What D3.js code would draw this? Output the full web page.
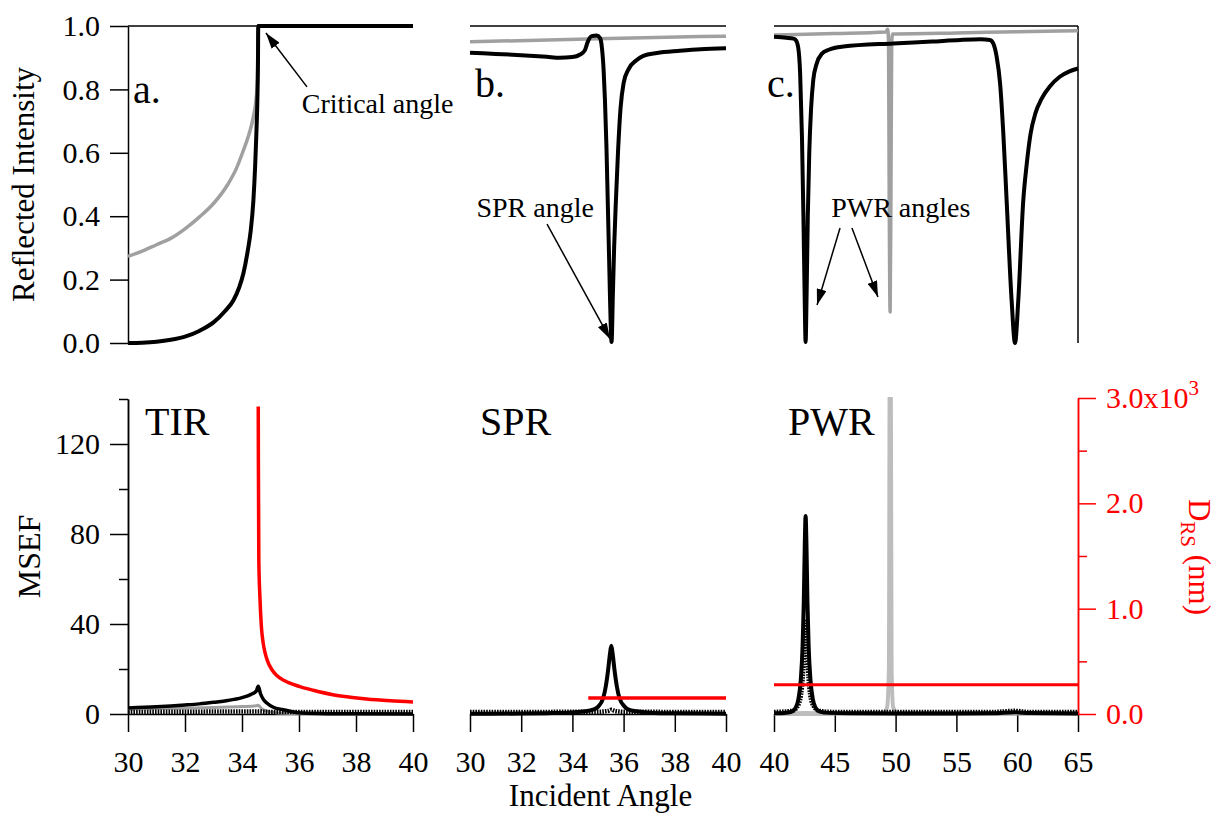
<!DOCTYPE html>
<html>
<head>
<meta charset="utf-8">
<script src="https://cdn.jsdelivr.net/npm/d3@7"></script>
<style>
  body { margin: 0; background: #fff; }
  svg text { font-family: "Liberation Serif", "DejaVu Serif", "Noto Serif", "Times New Roman", Times, serif; }
</style>
</head>
<body>
<script>
// reflectivity (top row), angle in degrees vs reflected intensity
const topA_black = [[30,0.0],[30.5,0.001],[31,0.004],[31.5,0.01],[32,0.02],[32.5,0.038],[33,0.065],[33.4,0.1],[33.7,0.135],[33.9,0.175],[34.05,0.22],[34.2,0.29],[34.3,0.35],[34.4,0.45],[34.46,0.556],[34.5,0.65],[34.54,0.77],[34.56,0.88],[34.57,1.0],[35,1.0],[40,1.0]];
const topA_gray = [[30,0.273],[30.5,0.29],[31,0.31],[31.5,0.33],[32,0.36],[32.5,0.397],[33,0.44],[33.5,0.5],[33.8,0.55],[34.05,0.608],[34.25,0.66],[34.4,0.714],[34.5,0.775],[34.54,0.83],[34.57,1.0],[40,1.0]];
const topB_black = [[30,0.916],[31,0.912],[32,0.908],[33,0.903],[33.5,0.9],[34,0.902],[34.3,0.91],[34.49,0.924],[34.6,0.95],[34.75,0.968],[34.95,0.97],[35.08,0.962],[35.14,0.94],[35.22,0.86],[35.27,0.77],[35.33,0.62],[35.38,0.45],[35.43,0.28],[35.47,0.14],[35.5,0.05],[35.53,0.003],[35.58,0.15],[35.63,0.3],[35.7,0.45],[35.78,0.6],[35.88,0.74],[36.0,0.82],[36.2,0.865],[36.5,0.892],[36.77,0.906],[37.3,0.915],[38.2,0.922],[39,0.927],[40,0.93]];
const topB_gray = [[30,0.95],[35,0.96],[40,0.968]];
const topC_black = [[40,0.966],[41,0.963],[41.6,0.96],[41.8,0.955],[42.0,0.93],[42.15,0.85],[42.3,0.65],[42.42,0.4],[42.52,0.15],[42.6,0.003],[42.68,0.15],[42.78,0.4],[42.9,0.6],[43.05,0.74],[43.23,0.83],[43.5,0.88],[43.92,0.912],[44.5,0.925],[45.7,0.935],[49.8,0.945],[53,0.951],[55.3,0.956],[57,0.958],[57.76,0.956],[58.03,0.945],[58.31,0.903],[58.59,0.82],[58.86,0.66],[59.13,0.45],[59.54,0.135],[59.82,0.0],[60.09,0.135],[60.5,0.45],[60.77,0.56],[61.1,0.66],[61.5,0.725],[62,0.77],[62.7,0.81],[63.5,0.84],[64.3,0.857],[65,0.866]];
const topC_gray = [[40,0.972],[45,0.976],[49.2,0.981],[49.35,0.99],[49.42,0.95],[49.47,0.5],[49.55,0.098],[49.62,0.5],[49.68,0.95],[49.76,0.975],[50,0.975],[55,0.978],[60,0.982],[65,0.985]];

// field enhancement (bottom row), angle vs MSEF
const botA_black = [[30,2.66],[31,3.2],[32,4.0],[32.5,4.5],[33,5.2],[33.5,6.0],[34,7.3],[34.3,8.6],[34.5,10.2],[34.57,12.3],[34.65,9.0],[34.75,6.5],[34.87,4.9],[35.1,3.0],[35.45,1.9],[35.8,0.9],[36.1,0.4],[37,0.15],[38,0.1],[40,0.05]];
const botA_gray = [[30,2.2],[31,2.4],[32,2.6],[33,2.9],[34,3.3],[34.5,3.7],[34.57,3.9],[34.7,2.2],[35,0.9],[35.5,0.3],[36,0.1],[37,0.03],[40,0.0]];
const botA_dot = [[30,0.9],[34.57,1.1],[35,0.9],[40,0.9]];
const botB_black = [[30,0.1],[32,0.2],[33,0.35],[34,0.7],[34.5,1.2],[34.8,1.9],[35.0,3.2],[35.2,7],[35.3,12],[35.4,20],[35.47,27],[35.52,30.3],[35.57,27],[35.64,20],[35.74,12],[35.84,7],[36.05,3.2],[36.2,1.9],[36.5,1.2],[37,0.6],[38,0.3],[40,0.15]];
const botB_dot = [[30,0.9],[35,1.0],[35.4,1.4],[35.52,1.9],[35.65,1.4],[36,1.0],[40,0.9]];
const botC_black = [[40,0.3],[41,0.6],[41.5,1.2],[41.8,3],[42.0,6.4],[42.2,15],[42.35,30],[42.45,50],[42.53,75],[42.6,88],[42.67,75],[42.75,50],[42.85,30],[43.0,15],[43.2,6.4],[43.4,3],[43.7,1.2],[44.5,0.5],[47,0.3],[50,0.2],[55,0.2],[58,0.3],[59.8,0.8],[61,0.4],[65,0.2]];
const botC_dot = [[40,0.9],[41.5,1.4],[42,4],[42.3,12],[42.5,30],[42.6,42],[42.7,30],[42.9,12],[43.2,4],[43.7,1.4],[45,0.9],[58,0.9],[59.8,1.4],[61,0.9],[65,0.9]];
const botC_gray = [[40,0.2],[42.6,0.5],[45,0.2],[49,0.5],[49.3,3],[49.45,20],[49.52,160],[49.6,160],[49.67,20],[49.8,3],[50.2,0.5],[65,0.1]];

// penetration depth (red, right axis, x10^3 nm)
const redA = [[34.57,2.92],[34.575,2.4],[34.59,1.47],[34.63,1.1],[34.68,0.83],[34.74,0.68],[34.81,0.58],[34.9,0.5],[35.05,0.42],[35.22,0.365],[35.5,0.315],[36.03,0.26],[36.5,0.225],[37.19,0.183],[37.8,0.16],[38.37,0.142],[39.2,0.125],[40,0.114]];
const redB = [[34.62,0.152],[40,0.152]];
const redC = [[40,0.278],[65,0.278]];

const ticksTop = [0, 0.2, 0.4, 0.6, 0.8, 1.0];
const ticksMsef = [0, 40, 80, 120];
const minorMsef = [20, 60, 100, 140];
const ticksD = [0, 1, 2, 3];
const minorD = [0.5, 1.5, 2.5];
const ticksAB = [30, 32, 34, 36, 38, 40];
const ticksC = [40, 45, 50, 55, 60, 65];

const black = "#000", gray = "#a0a0a0", lightGray = "#bdbdbd", red = "#ff0000";

const svg = d3.select("body").append("svg")
    .attr("width", 1217)
    .attr("height", 814);

const xA = d3.scaleLinear().domain([30, 40]).range([128, 413]);
const xB = d3.scaleLinear().domain([30, 40]).range([470, 726]);
const xC = d3.scaleLinear().domain([40, 65]).range([774, 1078]);
const yR = d3.scaleLinear().domain([0, 1]).range([343, 26]);
const yM = d3.scaleLinear().domain([0, 140]).range([714, 399]);
const yD = d3.scaleLinear().domain([0, 3]).range([714, 398]);

const defs = svg.append("defs");
defs.append("clipPath").attr("id", "clipC")
  .append("rect")
    .attr("x", xC.range()[0] - 5).attr("y", yM(140) - 2)
    .attr("width", xC.range()[1] - xC.range()[0] + 10)
    .attr("height", yM(0) - yM(140) + 10);

const marker = defs.append("marker")
    .attr("id", "arrow")
    .attr("markerUnits", "userSpaceOnUse")
    .attr("viewBox", "0 0 16 10")
    .attr("refX", 16).attr("refY", 5)
    .attr("markerWidth", 16).attr("markerHeight", 10)
    .attr("orient", "auto");
marker.append("path").attr("d", "M0,0 L16,5 L0,10 Z").attr("fill", black);

function plot(data, x, y, color, width, dash, clip) {
  const line = d3.line()
      .x(d => x(d[0]))
      .y(d => y(d[1]))
      .curve(d3.curveMonotoneX);
  const p = svg.append("path")
      .datum(data)
      .attr("fill", "none")
      .attr("stroke", color)
      .attr("stroke-width", width)
      .attr("stroke-linejoin", "round")
      .attr("d", line);
  if (dash) p.attr("stroke-dasharray", dash);
  if (clip) p.attr("clip-path", "url(#" + clip + ")");
}

function styleAxis(g, color) {
  g.attr("font-family", null).attr("font-size", 30);
  g.selectAll("path, line").attr("stroke", color).attr("stroke-width", 1.5);
  g.selectAll("text").attr("fill", color).attr("font-size", 30);
}

// ---------- top row frames ----------
[xA, xB, xC].forEach(x => {
  svg.append("line")
      .attr("x1", x.range()[0]).attr("x2", x.range()[1])
      .attr("y1", yR(1)).attr("y2", yR(1))
      .attr("stroke", black).attr("stroke-width", 1.5);
});
svg.append("line")
    .attr("x1", xC.range()[1]).attr("x2", xC.range()[1])
    .attr("y1", yR(1)).attr("y2", yR(0))
    .attr("stroke", black).attr("stroke-width", 1.5);

svg.append("g")
    .attr("transform", `translate(${xA.range()[0]},0)`)
    .call(d3.axisLeft(yR).tickValues(ticksTop).tickFormat(d3.format(".1f"))
      .tickSize(18).tickSizeOuter(0).tickPadding(10))
    .call(g => styleAxis(g, black));

// ---------- top row curves ----------
plot(topA_gray, xA, yR, gray, 3.5);
plot(topA_black, xA, yR, black, 4);
plot(topB_gray, xB, yR, gray, 3.5);
plot(topB_black, xB, yR, black, 4);
plot(topC_gray, xC, yR, gray, 3.5);
plot(topC_black, xC, yR, black, 4);

// ---------- bottom row axes ----------
svg.append("g")
    .attr("transform", `translate(${xA.range()[0]},0)`)
    .call(d3.axisLeft(yM).tickValues(ticksMsef).tickSize(18).tickSizeOuter(0).tickPadding(10))
    .call(g => styleAxis(g, black));
svg.append("g")
    .attr("transform", `translate(${xA.range()[0]},0)`)
    .call(d3.axisLeft(yM).tickValues(minorMsef).tickSize(9).tickSizeOuter(0).tickFormat(""))
    .call(g => styleAxis(g, black));

[[xA, ticksAB], [xB, ticksAB], [xC, ticksC]].forEach(([x, t]) => {
  svg.append("g")
      .attr("transform", `translate(0,${yM(0)})`)
      .call(d3.axisBottom(x).tickValues(t).tickSize(18).tickSizeOuter(0).tickPadding(19))
      .call(g => styleAxis(g, black));
});

const rAxis = svg.append("g")
    .attr("transform", `translate(${xC.range()[1]},0)`)
    .call(d3.axisRight(yD).tickValues(ticksD)
      .tickFormat(d => d === 3 ? "3.0x10" : d3.format(".1f")(d))
      .tickSize(18).tickSizeOuter(0).tickPadding(10))
    .call(g => styleAxis(g, red));
rAxis.selectAll(".tick text").filter(d => d === 3)
  .append("tspan").attr("dy", "-13").attr("font-size", 21).text("3");
svg.append("g")
    .attr("transform", `translate(${xC.range()[1]},0)`)
    .call(d3.axisRight(yD).tickValues(minorD).tickSize(9).tickSizeOuter(0).tickFormat(""))
    .call(g => styleAxis(g, red));

// ---------- bottom row curves ----------
plot(botA_gray, xA, yM, gray, 3);
plot(botA_black, xA, yM, black, 3.5);
plot(botA_dot, xA, yM, black, 4.5, "1.6 1.1");
plot(botB_black, xB, yM, black, 4);
plot(botB_dot, xB, yM, black, 4.5, "1.6 1.1");
plot(botC_gray, xC, yM, lightGray, 4, null, "clipC");
plot(botC_black, xC, yM, black, 4);
plot(botC_dot, xC, yM, black, 4.5, "1.6 1.1");
plot(redA, xA, yD, red, 3.5);
plot(redB, xB, yD, red, 3.5);
plot(redC, xC, yD, red, 3);

// ---------- labels ----------
function label(x, y, txt, size, anchor) {
  return svg.append("text")
      .attr("x", x).attr("y", y)
      .attr("text-anchor", anchor || "start")
      .attr("font-size", size)
      .attr("fill", black)
      .text(txt);
}

svg.append("text")
    .attr("transform", `translate(34,${(yR(0) + yR(1)) / 2}) rotate(-90)`)
    .attr("text-anchor", "middle")
    .attr("font-size", 31)
    .text("Reflected Intensity");
svg.append("text")
    .attr("transform", `translate(40,${yM(70)}) rotate(-90)`)
    .attr("text-anchor", "middle")
    .attr("font-size", 32)
    .text("MSEF");
label(xB(35.1), 806, "Incident Angle", 31, "middle");

const dTitle = svg.append("text")
    .attr("transform", `translate(1189,${yD(1.5) + 1}) rotate(90)`)
    .attr("text-anchor", "middle")
    .attr("fill", red)
    .attr("font-size", 31);
dTitle.append("tspan").text("D");
dTitle.append("tspan").attr("dy", 8).attr("font-size", 21).text("RS");
dTitle.append("tspan").attr("dy", -8).text(" (nm)");

label(xA(30) + 5, 103, "a.", 40);
label(xB(30) + 5, 97, "b.", 40);
label(xC(40) - 7, 97, "c.", 40);

label(145, 435, "TIR", 40);
label(480, 435, "SPR", 40);
label(788, 435, "PWR", 40);

label(xA(36.1), yR(0.725), "Critical angle", 28);
label(xB(30.25), yR(0.396), "SPR angle", 28);
label(xC(44.7), yR(0.396), "PWR angles", 28);

// ---------- arrows ----------
function arrow(x, y, a0, v0, a1, v1) {
  svg.append("line")
      .attr("x1", x(a0)).attr("y1", y(v0))
      .attr("x2", x(a1)).attr("y2", y(v1))
      .attr("stroke", black).attr("stroke-width", 1.5)
      .attr("marker-end", "url(#arrow)");
}
arrow(xA, yR, 36.28, 0.808, 34.84, 0.978);
arrow(xB, yR, 33.01, 0.375, 35.47, 0.013);
arrow(xC, yR, 45.43, 0.363, 43.54, 0.12);
arrow(xC, yR, 46.41, 0.363, 48.55, 0.145);
</script>
</body>
</html>
